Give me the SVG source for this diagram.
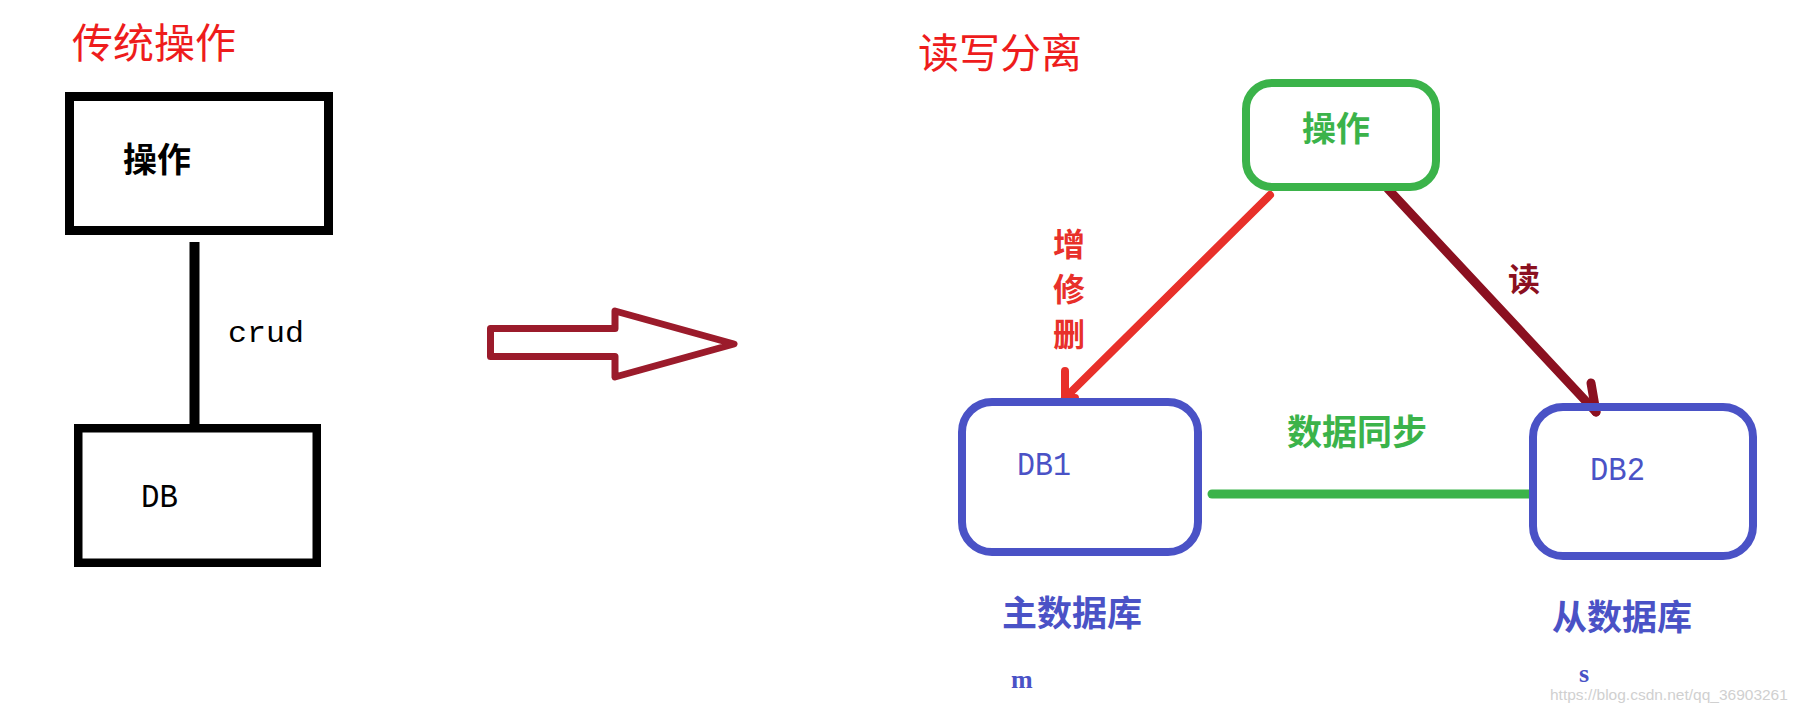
<svg xmlns="http://www.w3.org/2000/svg" width="1800" height="714" viewBox="0 0 1800 714">
<style>
.cjk{font-family:"Noto Sans CJK SC","Noto Sans",sans-serif}
.title{font-size:41px;fill:#ee1c1c}
.lab{font-weight:bold}
.mono{font-family:"Liberation Mono","DejaVu Sans Mono",monospace}
.blk{fill:#000}
.blue{fill:#4a52c6}
.green{fill:#3bb34a}
.box{fill:#fff}
</style>
<rect width="1800" height="714" fill="#fff"/>
<text class="cjk title" x="72" y="58">传统操作</text>
<text class="cjk title" x="918" y="68">读写分离</text>
<g id="connectors" fill="none" stroke-linecap="round" stroke-linejoin="round">
<line x1="194.5" y1="242" x2="194.5" y2="425" stroke="#000" stroke-width="10" stroke-linecap="butt"/>
<polygon points="490.5,328.5 615,328.5 615,311 734,344 615,377 615,356.5 490.5,356.5" stroke="#9b1b2b" stroke-width="7"/>
<polyline points="1270,195 1065,398" stroke="#e8302a" stroke-width="8"/>
<polyline points="1065,371 1065,398 1075,398" stroke="#e8302a" stroke-width="8"/>
<polyline points="1388,189 1596,412" stroke="#8b1020" stroke-width="9"/>
<polyline points="1591,383 1596,412" stroke="#8b1020" stroke-width="9"/>
<line x1="1212" y1="494" x2="1531" y2="494" stroke="#3bb34a" stroke-width="9"/>
<text class="cjk lab" x="1053" y="256" font-size="32" fill="#e8302a">增</text>
<text class="cjk lab" x="1053" y="301" font-size="32" fill="#e8302a">修</text>
<text class="cjk lab" x="1053" y="346" font-size="32" fill="#e8302a">删</text>
<text class="cjk lab" x="1508" y="291" font-size="32" fill="#8b1020">读</text>
<text class="mono" x="228" y="342" font-size="30" textLength="76" lengthAdjust="spacingAndGlyphs" fill="#000">crud</text>
<text class="cjk lab green" x="1287" y="445" font-size="35">数据同步</text>
</g>
<g id="op-left">
<rect x="69.5" y="96.5" width="259" height="134" fill="#fff" stroke="#000" stroke-width="9"/>
<text class="cjk lab blk" x="123" y="172" font-size="34">操作</text>
</g>
<g id="db-left">
<rect x="78.25" y="428.25" width="238.5" height="134.5" fill="#fff" stroke="#000" stroke-width="8.5"/>
<text class="mono blk" x="141" y="507" font-size="34" textLength="37" lengthAdjust="spacingAndGlyphs">DB</text>
</g>
<g id="op-right">
<rect x="1246" y="83" width="190" height="104" rx="26" fill="none" stroke="#3bb34a" stroke-width="8"/>
<text class="cjk lab green" x="1302" y="141" font-size="34">操作</text>
</g>
<g id="db1">
<rect x="962" y="402" width="236" height="150" rx="30" fill="none" stroke="#4a52c6" stroke-width="8"/>
<text class="mono blue" x="1017" y="475" font-size="34" textLength="54" lengthAdjust="spacingAndGlyphs">DB1</text>
<text class="cjk lab blue" x="1002" y="626" font-size="35">主数据库</text>
<text x="1011" y="688" font-family="Liberation Serif,serif" font-weight="bold" font-size="26" class="blue">m</text>
</g>
<g id="db2">
<rect x="1533" y="407" width="220" height="149" rx="30" fill="none" stroke="#4a52c6" stroke-width="8"/>
<text class="mono blue" x="1590" y="480" font-size="34" textLength="55" lengthAdjust="spacingAndGlyphs">DB2</text>
<text class="cjk lab blue" x="1552" y="630" font-size="35">从数据库</text>
<text x="1579" y="682" font-family="Liberation Serif,serif" font-weight="bold" font-size="26" class="blue">s</text>
</g>
<text x="1550" y="700" font-family="Liberation Sans,sans-serif" font-size="15.5" fill="#d0d0d0">https://blog.csdn.net/qq_36903261</text>
</svg>
